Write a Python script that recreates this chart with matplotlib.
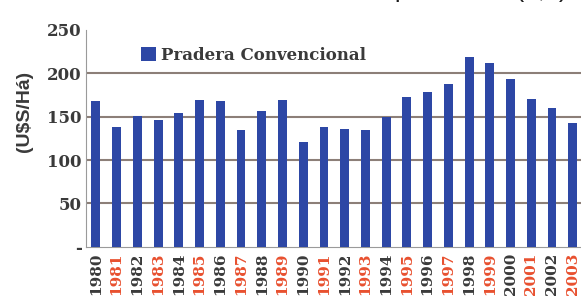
import matplotlib
matplotlib.use("Agg")
import matplotlib.pyplot as plt
import numpy as np

# data
years = [str(y) for y in range(1980, 2004)]
pradera = [168, 138, 151, 146, 154, 169, 168, 135, 156, 169, 121, 138,
           136, 135, 150, 172, 178, 187, 218, 212, 193, 170, 160, 143]
y_ticks = [0, 50, 100, 150, 200, 250]
y_tick_labels = ["-", "50", "100", "150", "200", "250"]

bar_color = "#2D47A5"
grid_color = "#8C7F78"
text_color = "#3A3A3A"
red = "#E8502F"

fig = plt.figure(figsize=(5.81, 2.99), dpi=100)
ax = fig.add_axes([0.148, 0.174, 0.852, 0.727])

x = np.arange(len(years))
ax.bar(x, pradera, width=0.43, color=bar_color, zorder=3, label="Pradera Convencional")

ax.set_xlim(-0.48, 23.4)
ax.set_ylim(0, 250)
ax.set_yticks(y_ticks)
ax.set_yticklabels(y_tick_labels, fontfamily="DejaVu Serif", fontweight="bold",
                   fontsize=12, color=text_color)
ax.set_xticks(x)
ax.set_xticklabels(years, rotation=90, fontfamily="DejaVu Serif", fontweight="bold",
                   fontsize=11)
for i, lbl in enumerate(ax.get_xticklabels()):
    lbl.set_color(red if i % 2 else text_color)

for v in y_ticks[1:-1]:
    ax.axhline(v, color=grid_color, lw=1.5, zorder=1)

for s in ["top", "right"]:
    ax.spines[s].set_visible(False)
ax.spines["left"].set_color("#9A9A9A")
ax.spines["bottom"].set_color("#9A9A9A")
ax.tick_params(axis="y", length=0, pad=3)
ax.tick_params(axis="x", length=0, pad=4)

leg = ax.legend(loc="upper left", bbox_to_anchor=(0.08, 0.99), frameon=False,
                handlelength=0.9, handleheight=0.9, handletextpad=0.3,
                prop={"family": "DejaVu Serif", "weight": "bold", "size": 12})
for t in leg.get_texts():
    t.set_color(text_color)

fig.text(25 / 581, 1 - 111 / 299, "(U$S/Há)", rotation=90, ha="center", va="center",
         fontfamily="Liberation Sans", fontweight="bold", fontsize=14, color=text_color)

# title cut off by the top edge of the picture, only descenders show
fig.text(567 / 581, 1 + 3 / 299, "Costo de implantación (1,2)", ha="right", va="baseline",
         fontfamily="Liberation Sans", fontsize=18, color="#1A1A1A")

fig.savefig("out.png", dpi=100)
